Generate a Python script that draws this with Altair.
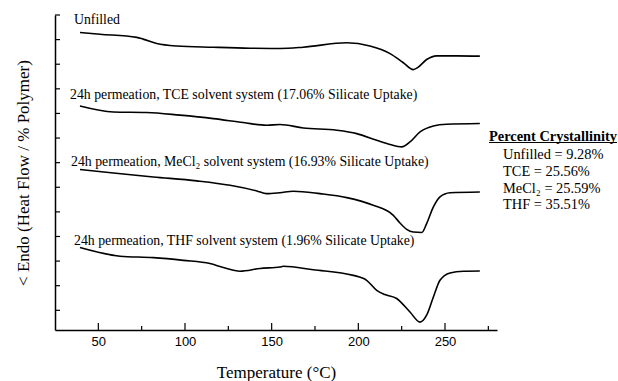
import altair as alt
import pandas as pd

# ---- data (temperature in C, heat flow in arbitrary offset units) ----
t_unfilled = [39.4, 51, 72.2, 75.8, 83.7, 95.2, 116.2, 137.5, 154.8, 168.1, 193.3, 206.7, 218.3, 225.8, 231.7, 234.4, 239.4, 245.2, 256.7, 270.1]
h_unfilled = [11.29, 11.22, 11.09, 11.02, 10.84, 10.74, 10.69, 10.65, 10.64, 10.69, 10.87, 10.74, 10.43, 10.07, 9.78, 9.87, 10.19, 10.34, 10.34, 10.33]

t_tce = [39.4, 58.7, 77.9, 97.1, 116.3, 133.6, 147.1, 154.8, 168.3, 187.5, 199.1, 210.6, 218.3, 225.0, 229.8, 235.6, 243.3, 251.0, 270.1]
h_tce = [8.30, 8.06, 8.04, 7.93, 7.79, 7.63, 7.52, 7.55, 7.41, 7.32, 7.18, 6.91, 6.74, 6.64, 6.84, 7.25, 7.49, 7.56, 7.59]

t_mecl = [39.4, 58.7, 81.7, 106.8, 126.0, 141.4, 147.1, 154.8, 162.5, 177.9, 193.3, 208.6, 220.2, 224.0, 227.9, 231.7, 236.6, 239.4, 243.3, 247.1, 252.9, 270.1]
h_mecl = [5.72, 5.58, 5.42, 5.26, 5.08, 4.85, 4.74, 4.78, 4.84, 4.74, 4.58, 4.27, 3.86, 3.55, 3.29, 3.18, 3.16, 3.52, 4.20, 4.61, 4.78, 4.81]

t_thf = [39.4, 62.5, 81.7, 99.0, 114.4, 122.1, 131.7, 143.3, 154.8, 156.7, 174.0, 197.1, 204.8, 210.6, 215.4, 222.1, 229.8, 235.6, 239.4, 243.3, 247.1, 252.9, 260.6, 270.1]
h_thf = [2.55, 2.20, 2.14, 2.03, 1.90, 1.74, 1.59, 1.70, 1.76, 1.79, 1.65, 1.42, 1.22, 0.81, 0.64, 0.48, -0.07, -0.48, -0.20, 0.54, 1.22, 1.52, 1.59, 1.60]

series_names = ["Unfilled", "TCE", "MeCl2", "THF"]
curve_labels = [
    "Unfilled",
    "24h permeation, TCE solvent system (17.06% Silicate Uptake)",
    "24h permeation, MeCl\u2082 solvent system (16.93% Silicate Uptake)",
    "24h permeation, THF solvent system (1.96% Silicate Uptake)",
]
cryst_title = "Percent Crystallinity"
cryst_lines = ["Unfilled = 9.28%", "TCE = 25.56%", "MeCl\u2082 = 25.59%", "THF = 35.51%"]

x_major = [50, 100, 150, 200, 250]
x_minor = [75, 125, 175, 225, 275]
y_ticks = list(range(0, 13))

# ---- build table ----
rows = []
for name, ts, hs in zip(series_names, [t_unfilled, t_tce, t_mecl, t_thf], [h_unfilled, h_tce, h_mecl, h_thf]):
    for t, h in zip(ts, hs):
        rows.append({"series": name, "T": t, "v": h})
df = pd.DataFrame(rows)

W, H = 442, 315
SERIF = "Liberation Serif"
SANS = "Liberation Sans"

xscale = alt.Scale(domain=[25, 280], nice=False, zero=False)
yscale = alt.Scale(domain=[-0.8, 12], nice=False, zero=False)

xaxis = alt.Axis(
    values=x_major, ticks=False, grid=False, title="Temperature (\u00b0C)",
    labelFont=SANS, labelFontSize=13, labelPadding=5, labelColor="black",
    titleFont=SERIF, titleFontSize=17, titleFontWeight="normal", titlePadding=16,
    titleColor="black", domainColor="black", domainWidth=1.5)
yaxis = alt.Axis(
    labels=False, ticks=False, grid=False, title="< Endo (Heat Flow / % Polymer)",
    titleFont=SERIF, titleFontSize=17, titleFontWeight="normal", titlePadding=23,
    titleColor="black", domainColor="black", domainWidth=1.5)

lines = alt.Chart(df).mark_line(color="black", strokeWidth=1.6, interpolate="monotone").encode(
    x=alt.X("T:Q", scale=xscale, axis=xaxis),
    y=alt.Y("v:Q", scale=yscale, axis=yaxis),
    detail="series:N",
)

ytick = alt.Chart(pd.DataFrame({"v": y_ticks})).mark_rule(color="black", strokeWidth=1.2).encode(
    y=alt.Y("v:Q", scale=yscale, axis=yaxis), x=alt.value(0), x2=alt.value(5))
xmaj = alt.Chart(pd.DataFrame({"T": x_major})).mark_rule(color="black", strokeWidth=1.2).encode(
    x=alt.X("T:Q", scale=xscale, axis=xaxis), y=alt.value(H), y2=alt.value(H - 7))
xmin = alt.Chart(pd.DataFrame({"T": x_minor})).mark_rule(color="black", strokeWidth=1.2).encode(
    x=alt.X("T:Q", scale=xscale, axis=xaxis), y=alt.value(H), y2=alt.value(H - 4))

layers = [lines, ytick, xmaj, xmin]

label_pos = [(19, 5), (15, 80), (16, 147), (19, 226)]
for lab, (px, py) in zip(curve_labels, label_pos):
    layers.append(alt.Chart(pd.DataFrame({"t": [lab]})).mark_text(
        font=SERIF, fontSize=13.8, align="left", baseline="middle", color="black").encode(
        text="t:N", x=alt.value(px), y=alt.value(py)))

layers.append(alt.Chart(pd.DataFrame({"t": [cryst_title]})).mark_text(
    font=SERIF, fontSize=14.4, fontWeight="bold", align="left", baseline="middle", color="black").encode(
    text="t:N", x=alt.value(434), y=alt.value(122)))
layers.append(alt.Chart(pd.DataFrame({"t": [cryst_title]})).mark_rule(color="black", strokeWidth=1).encode(
    x=alt.value(434), x2=alt.value(562), y=alt.value(127.5)))
for i, line in enumerate(cryst_lines):
    layers.append(alt.Chart(pd.DataFrame({"t": [line]})).mark_text(
        font=SERIF, fontSize=14.4, align="left", baseline="middle", color="black").encode(
        text="t:N", x=alt.value(448), y=alt.value(140 + i * 16.8)))

chart = alt.layer(*layers).properties(
    width=W, height=H,
    autosize=alt.AutoSizeParams(type="none"),
    padding={"left": 55, "top": 15, "right": 121, "bottom": 51},
    background="white",
).configure_view(stroke=None)

chart.save("out.html", embed_options={"renderer": "svg", "actions": False})
